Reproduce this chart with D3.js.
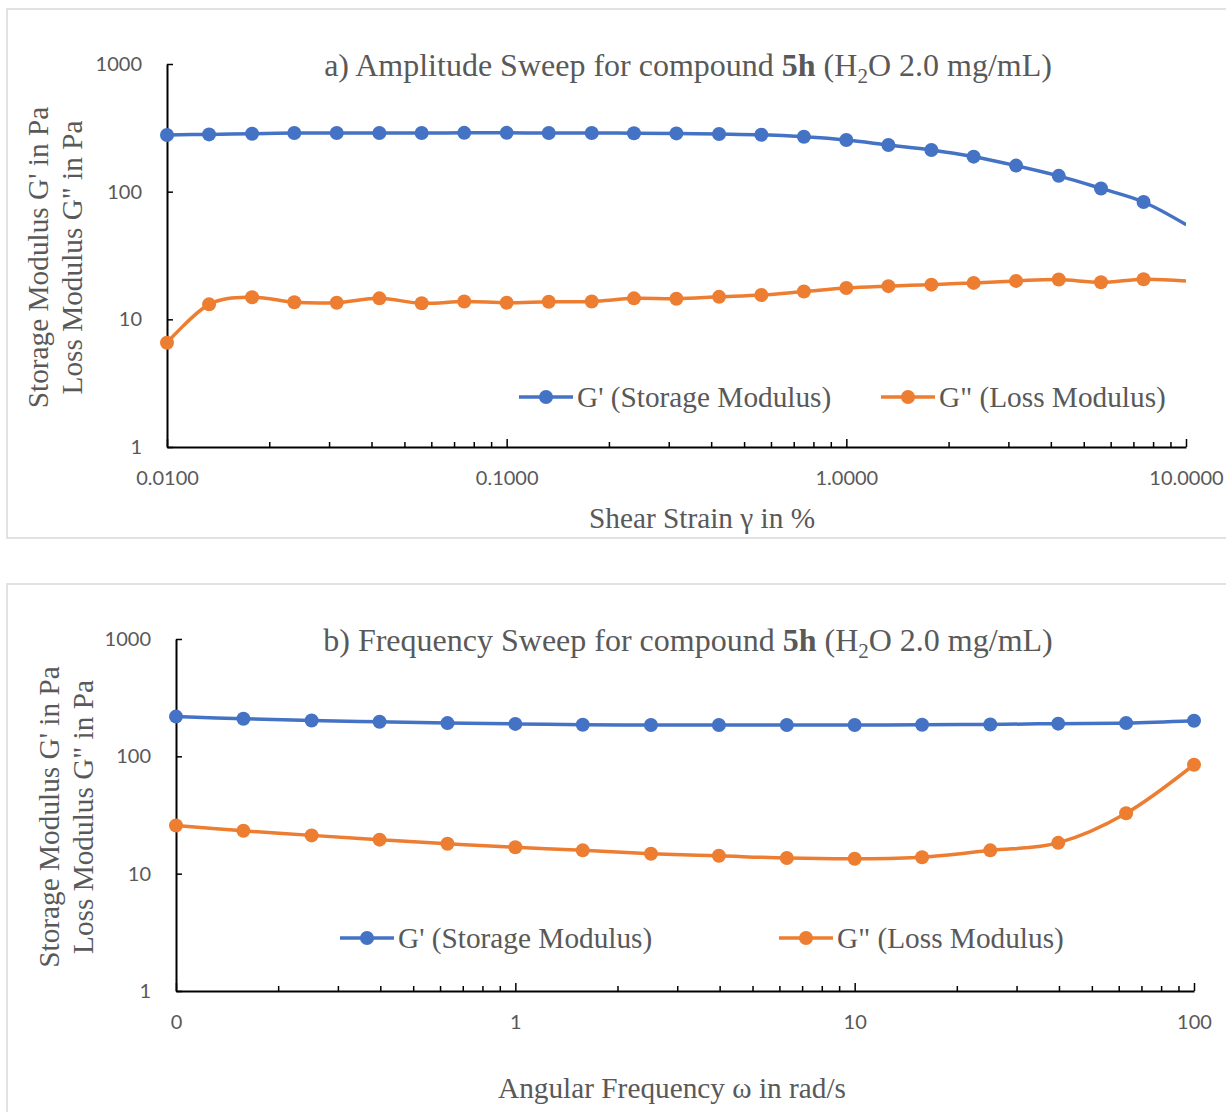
<!DOCTYPE html>
<html lang="en">
<head>
    <meta charset="utf-8" />
    <title>Amplitude and Frequency Sweep, compound 5h</title>
    <script src="https://d3js.org/d3.v7.min.js"></script>
    <style>
        body {
            margin: 0;
            padding: 0;
            background: white;
        }
        .tick text {
            font-family: Lato, "Open Sans", sans-serif;
            font-size: 20px;
            fill: #595959;
        }
        .serif {
            font-family: "Liberation Serif", "Times New Roman", serif;
            fill: #595959;
        }
    </style>
</head>
<body>
<svg id="chart"></svg>
<script>
    var w = 1226;
    var h = 1112;

    // a) amplitude sweep, shear strain in %
    var strain = [0.01, 0.0133, 0.0178, 0.0237, 0.0316, 0.0422, 0.0562, 0.075, 0.1, 0.133, 0.178, 0.237, 0.316,
                  0.422, 0.562, 0.75, 1, 1.33, 1.78, 2.37, 3.16, 4.22, 5.62, 7.5, 10.02];
    var strainStorage = [278, 281, 284, 288, 288, 288, 288, 289, 289, 288, 288, 287, 286,
                         283, 279, 269, 254, 232, 212, 188, 160, 133, 106, 83, 55];
    var strainLoss = [6.56, 13.1, 14.9, 13.6, 13.5, 14.6, 13.35, 13.8, 13.5, 13.75, 13.8, 14.6, 14.5,
                      15.0, 15.5, 16.5, 17.6, 18.2, 18.7, 19.3, 20.0, 20.5, 19.5, 20.6, 20.0];
    var strainTicks = [0.01, 0.1, 1, 10];
    var strainTickLabels = ["0.0100", "0.1000", "1.0000", "10.0000"];

    // b) frequency sweep, angular frequency in rad/s
    var omega = [0.1, 0.158, 0.251, 0.398, 0.631, 1, 1.58, 2.51, 3.98, 6.31, 10, 15.8, 25.1, 39.8, 63.1, 100];
    var omegaStorage = [218, 209, 202, 197, 192, 189, 186, 185, 185, 185, 185, 186, 187, 190, 192, 201];
    var omegaLoss = [25.7, 23.2, 21.2, 19.5, 18.0, 16.8, 15.8, 14.8, 14.2, 13.6, 13.4, 13.8, 15.8, 18.3, 32.7, 84.8];
    var omegaTicks = [0.1, 1, 10, 100];
    var omegaTickLabels = ["0", "1", "10", "100"];

    var modulusTicks = [1, 10, 100, 1000];
    var modulusTickLabels = ["1", "10", "100", "1000"];

    var seriesNames = ["G' (Storage Modulus)", "G\" (Loss Modulus)"];
    var seriesColors = ["#4472C4", "#ED7D31"];

    var svg = d3.select("#chart")
                .attr("width", w)
                .attr("height", h);

    // minor ticks 2..9 inside each decade
    function minorTicks(majors) {
        var out = [];
        for (var i = 0; i < majors.length - 1; i++) {
            for (var m = 2; m < 10; m++) {
                out.push(majors[i] * m);
            }
        }
        return out;
    }

    function drawPanel(p) {
        var g = svg.append("g");

        // light frame round the chart
        g.append("rect")
            .attr("x", p.frame[0])
            .attr("y", p.frame[1])
            .attr("width", p.frame[2])
            .attr("height", p.frame[3])
            .attr("fill", "white")
            .attr("stroke", "#D9D9D9")
            .attr("stroke-width", 1.5);

        var xScale = d3.scaleLog()
                    .domain([p.xTicks[0], p.xTicks[p.xTicks.length - 1]])
                    .range([p.left, p.right]);
        var yScale = d3.scaleLog()
                    .domain([1, 1000])
                    .range([p.bottom, p.top]);

        // minor x ticks (no labels)
        g.append("g")
            .attr("transform", "translate(0," + p.bottom + ")")
            .call(d3.axisBottom(xScale).tickValues(minorTicks(p.xTicks)).tickFormat("").tickSize(-5).tickSizeOuter(0))
            .call(function(a) { a.select(".domain").remove(); })
            .selectAll("line").attr("stroke", "#000").attr("stroke-width", 1.5);

        // major x axis
        var xg = g.append("g")
            .attr("transform", "translate(0," + p.bottom + ")")
            .call(d3.axisBottom(xScale)
                .tickValues(p.xTicks)
                .tickFormat(function(d, i) { return p.xTickLabels[i]; })
                .tickSize(-8)
                .tickSizeOuter(0)
                .tickPadding(24));
        xg.select(".domain").attr("stroke", "#000").attr("stroke-width", 2);
        xg.selectAll(".tick line").attr("stroke", "#000").attr("stroke-width", 1.5);

        // y axis
        var yg = g.append("g")
            .attr("transform", "translate(" + p.left + ",0)")
            .call(d3.axisLeft(yScale)
                .tickValues(modulusTicks)
                .tickFormat(function(d, i) { return modulusTickLabels[i]; })
                .tickSize(-6)
                .tickSizeOuter(0)
                .tickPadding(25));
        yg.select(".domain").attr("stroke", "#000").attr("stroke-width", 2);
        yg.selectAll(".tick line").attr("stroke", "#000").attr("stroke-width", 1.5);

        // clip lines at the plot edge
        svg.append("clipPath")
            .attr("id", p.id + "-clip")
            .append("rect")
            .attr("x", p.left - 20)
            .attr("y", p.top - 20)
            .attr("width", p.right - p.left + 20)
            .attr("height", p.bottom - p.top + 40);

        var line = d3.line()
            .x(function(d) { return xScale(d[0]); })
            .y(function(d) { return yScale(d[1]); })
            .curve(d3.curveCatmullRom.alpha(0));

        var maxX = xScale.domain()[1];
        p.series.forEach(function(values, s) {
            var pts = p.xValues.map(function(xv, i) { return [xv, values[i]]; });
            g.append("path")
                .datum(pts)
                .attr("clip-path", "url(#" + p.id + "-clip)")
                .attr("d", line)
                .attr("fill", "none")
                .attr("stroke", seriesColors[s])
                .attr("stroke-width", 3.5);
            g.selectAll(".dot" + s)
                .data(pts.filter(function(d) { return d[0] <= maxX; }))
                .enter().append("circle")
                .attr("cx", function(d) { return xScale(d[0]); })
                .attr("cy", function(d) { return yScale(d[1]); })
                .attr("r", 7)
                .attr("fill", seriesColors[s]);
        });

        // title
        var title = g.append("text")
            .attr("class", "serif")
            .attr("x", p.titleX)
            .attr("y", p.titleY)
            .attr("text-anchor", "middle")
            .style("font-size", "32px");
        title.append("tspan").text(p.titleLead + " Sweep for compound ");
        title.append("tspan").attr("font-weight", "bold").text("5h");
        title.append("tspan").text(" (H");
        title.append("tspan").attr("dy", 7).style("font-size", "21px").text("2");
        title.append("tspan").attr("dy", -7).text("O 2.0 mg/mL)");

        // y axis title, two lines
        var yLines = ["Storage Modulus G' in Pa", "Loss Modulus G\" in Pa"];
        yLines.forEach(function(t, i) {
            g.append("text")
                .attr("class", "serif")
                .attr("transform", "translate(" + p.yTitleX[i] + "," + ((p.top + p.bottom) / 2 + 2) + ") rotate(-90)")
                .attr("text-anchor", "middle")
                .style("font-size", "29.3px")
                .text(t);
        });

        // x axis title
        g.append("text")
            .attr("class", "serif")
            .attr("x", p.xTitleX)
            .attr("y", p.xTitleY)
            .attr("text-anchor", "middle")
            .style("font-size", "29.3px")
            .text(p.xTitle);

        // legend
        p.legendX.forEach(function(lx, s) {
            g.append("line")
                .attr("x1", lx).attr("x2", lx + 54)
                .attr("y1", p.legendY).attr("y2", p.legendY)
                .attr("stroke", seriesColors[s])
                .attr("stroke-width", 3.5);
            g.append("circle")
                .attr("cx", lx + 27).attr("cy", p.legendY)
                .attr("r", 7)
                .attr("fill", seriesColors[s]);
            g.append("text")
                .attr("class", "serif")
                .attr("x", lx + 58)
                .attr("y", p.legendY + 10)
                .style("font-size", "29.3px")
                .text(seriesNames[s]);
        });
    }

    drawPanel({
        id: "amp",
        frame: [7, 9, 1240, 529],
        left: 167, right: 1186, top: 64, bottom: 447,
        xTicks: strainTicks, xTickLabels: strainTickLabels,
        xValues: strain, series: [strainStorage, strainLoss],
        titleLead: "a) Amplitude", titleX: 688, titleY: 76,
        yTitleX: [48, 82],
        xTitle: "Shear Strain \u03b3 in %", xTitleX: 702, xTitleY: 528,
        legendX: [519, 881], legendY: 397
    });

    drawPanel({
        id: "freq",
        frame: [7, 584, 1240, 560],
        left: 176, right: 1194, top: 639, bottom: 991,
        xTicks: omegaTicks, xTickLabels: omegaTickLabels,
        xValues: omega, series: [omegaStorage, omegaLoss],
        titleLead: "b) Frequency", titleX: 688, titleY: 651,
        yTitleX: [59, 93],
        xTitle: "Angular Frequency \u03c9 in rad/s", xTitleX: 672, xTitleY: 1098,
        legendX: [340, 779], legendY: 938
    });
</script>
</body>
</html>
